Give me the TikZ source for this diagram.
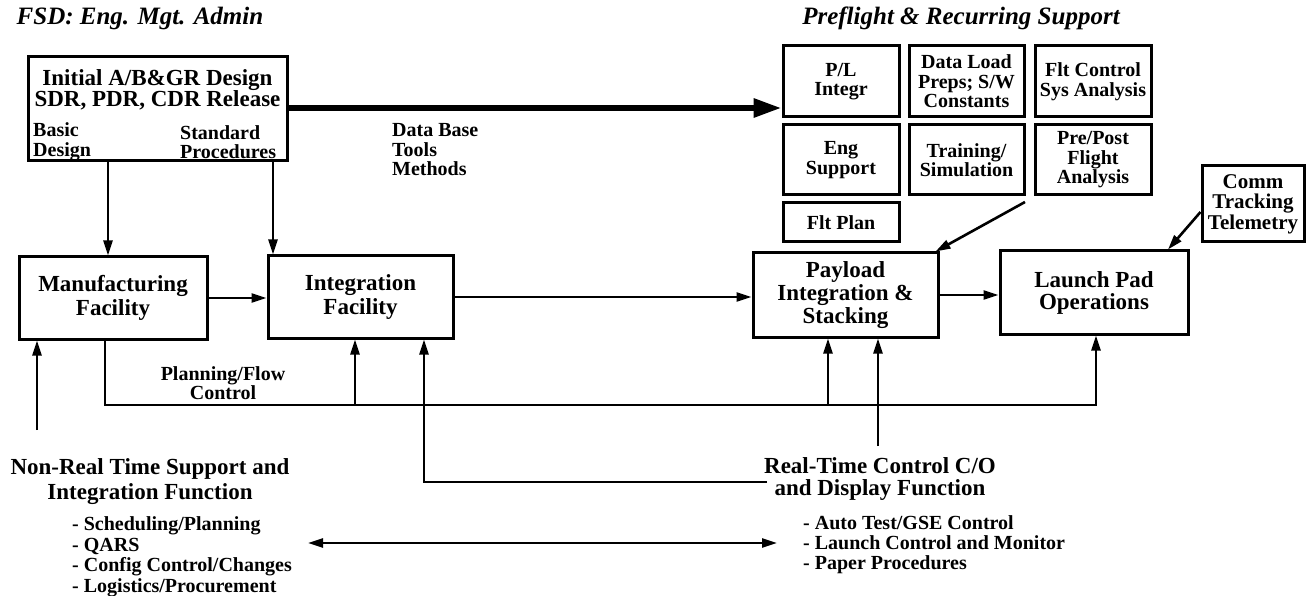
\documentclass[tikz,border=0pt]{standalone}
\usepackage{fontspec}
\setmainfont{Liberation Serif}
\usetikzlibrary{arrows.meta}
\begin{document}
\begin{tikzpicture}[x=1pt,y=-1pt,
  box/.style={draw, line width=3pt, inner sep=0pt, align=center},
  hfont/.style={font=\bfseries\fontsize{23}{24}\selectfont},
  sfont/.style={font=\bfseries\fontsize{20}{19.5}\selectfont},
  tfont/.style={font=\bfseries\itshape\fontsize{25}{27}\selectfont},
  conn/.style={line width=2.6pt},
  arr/.style={conn, -{Triangle[length=15pt,width=9pt]}},
  dblarr/.style={conn, {Triangle[length=15pt,width=9pt]}-{Triangle[length=15pt,width=9pt]}},
  bigarr/.style={line width=6pt, -{Triangle[length=28pt,width=18pt]}},
  ]
\path[fill=white] (0,0) rectangle (1307,596);
\useasboundingbox (0,0) rectangle (1307,596);

% titles
\node[tfont] (ttl1) at (140,18) {FSD: Eng. Mgt. Admin};
\node[tfont] (ttl2) at (961,18) {Preflight \& Recurring Support};

% top-left design box
\node[box, minimum width=259pt, minimum height=104pt] (topbox) at (157.5,109) {};
\node[font=\bfseries\fontsize{23}{21.5}\selectfont, align=center, inner sep=0pt] (tb1) at (157.5,90) {Initial A/B\&GR Design\\SDR, PDR, CDR Release};
\node[font=\bfseries\fontsize{20}{19.5}\selectfont, align=left, anchor=west, inner sep=0pt] (tb2) at (33,142) {Basic\\Design};
\node[font=\bfseries\fontsize{20}{19.5}\selectfont, align=left, anchor=west, inner sep=0pt] (tb3) at (180,142) {Standard\\Procedures};

% support grid
\node[box, sfont, minimum width=116pt, minimum height=71pt] (PL) at (841,81.5) {P/L\\Integr};
\node[box, sfont, minimum width=115pt, minimum height=71pt] (DL) at (966.5,81.5) {Data Load\\Preps; S/W\\Constants};
\node[box, sfont, minimum width=116pt, minimum height=71pt] (FC) at (1093,81.5) {Flt Control\\Sys Analysis};
\node[box, sfont, minimum width=116pt, minimum height=70pt] (ES) at (841,160) {Eng\\Support};
\node[box, sfont, minimum width=115pt, minimum height=70pt] (TS) at (966.5,160) {Training/\\Simulation};
\node[box, sfont, minimum width=116pt, minimum height=70pt] (PP) at (1093,160) {Pre/Post\\Flight\\Analysis};
\node[box, sfont, minimum width=116pt, minimum height=39pt] (FP) at (841,222.5) {Flt Plan};
\node[box, font=\bfseries\fontsize{21}{20.5}\selectfont, minimum width=102pt, minimum height=76pt] (comm) at (1253,204) {Comm\\Tracking\\Telemetry};

% main facility boxes
\node[box, hfont, minimum width=188pt, minimum height=82pt] (mfg) at (113,298) {Manufacturing\\Facility};
\node[box, hfont, minimum width=185pt, minimum height=82pt] (integ) at (360.5,297) {Integration\\Facility};
\node[box, font=\bfseries\fontsize{23}{23}\selectfont, minimum width=185pt, minimum height=84pt] (payload) at (845.5,295) {Payload\\Integration \&\\Stacking};
\node[box, font=\bfseries\fontsize{23}{22}\selectfont, minimum width=188pt, minimum height=83pt] (launch) at (1094,292.5) {Launch Pad\\Operations};

% free labels
\node[sfont, align=left, anchor=west, inner sep=0pt] (db) at (392,150) {Data Base\\Tools\\Methods};
\node[sfont, align=center, inner sep=0pt] (pf) at (223,383) {Planning/Flow\\Control};
\node[font=\bfseries\fontsize{23}{25}\selectfont, align=center, inner sep=0pt] (nrt) at (150,482) {Non-Real Time Support and\\Integration Function};
\node[font=\bfseries\fontsize{20}{20.5}\selectfont, align=left, anchor=west, inner sep=0pt] (nrl) at (72,557) {- Scheduling/Planning\\- QARS\\- Config Control/Changes\\- Logistics/Procurement};
\node[font=\bfseries\fontsize{23}{22}\selectfont, align=center, inner sep=0pt] (rt) at (880,479) {Real-Time Control C/O\\and Display Function};
\node[font=\bfseries\fontsize{20}{20}\selectfont, align=left, anchor=west, inner sep=0pt] (rtl) at (803,545) {- Auto Test/GSE Control\\- Launch Control and Monitor\\- Paper Procedures};

% helper coordinates
\coordinate (dbrow) at (0,108);
\coordinate (xm) at (108,0);
\coordinate (xi) at (273,0);
\coordinate (busL) at (105,405);
\coordinate (busR) at (1096,405);
\coordinate (bi) at (355,405);
\coordinate (bp) at (828,405);
\coordinate (rtup) at (878,446);
\coordinate (rtleft) at (767,482);
\coordinate (xq) at (424,0);
\coordinate (lup) at (37,430);
\coordinate (da1) at (308,543);
\coordinate (da2) at (777,543);
\coordinate (ppo) at (1026,202);
\coordinate (cy) at (0,212);
\coordinate (ct) at (1168,0);

% connectors
\draw[bigarr] (topbox.east |- dbrow) -- (PL.west |- dbrow);
\draw[arr] (topbox.south -| xm) -- (mfg.north -| xm);
\draw[arr] (topbox.south -| xi) -- (integ.north -| xi);
\draw[arr] (mfg.east) -- (mfg.east -| integ.west);
\draw[arr] (integ.east) -- (integ.east -| payload.west);
\draw[arr] (payload.east) -- (payload.east -| launch.west);
\draw[arr] ([xshift=-1pt]ppo) -- ([xshift=-4pt]payload.north east);
\draw[arr] (comm.west |- cy) -- (launch.north -| ct);
\draw[arr] (mfg.south -| busL) -- (busL) -- (busR) -- (launch.south -| busR);
\draw[arr] (bi) -- (integ.south -| bi);
\draw[arr] (bp) -- (payload.south -| bp);
\draw[arr] (rtup) -- (payload.south -| rtup);
\draw[arr] (rtleft) -| (integ.south -| xq);
\draw[arr] (lup) -- (mfg.south -| lup);
\draw[dblarr] (da1) -- (da2);
\end{tikzpicture}
\end{document}
